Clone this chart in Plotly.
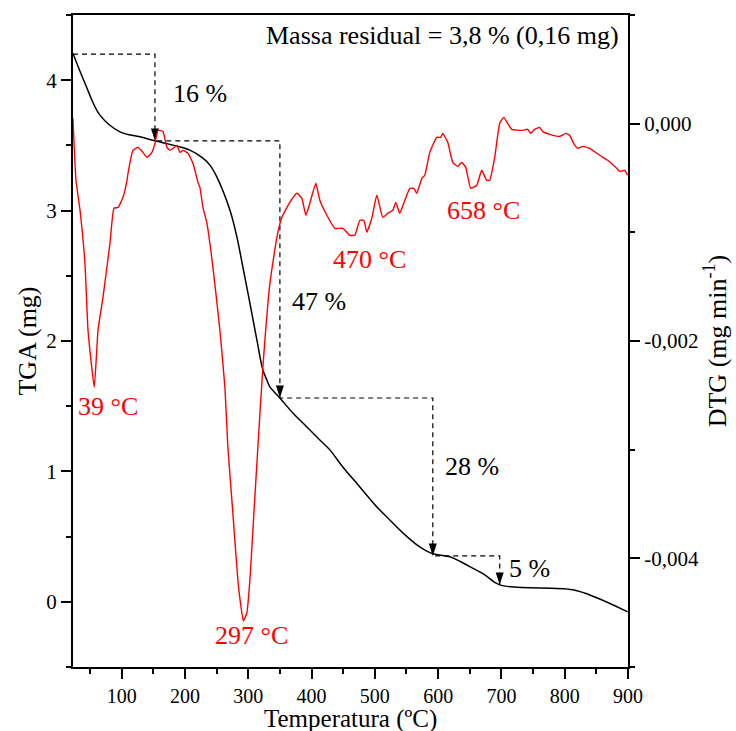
import plotly.graph_objects as go

# ---------------- data ----------------
tga_temperature = [23.1, 42.0, 65.7, 97.3, 128.9, 152.6, 181.0, 207.8, 228.4, 239.4, 250.5, 271.0,
                   282.1, 291.5, 302.6, 313.6, 323.1, 329.4, 334.2, 349.9, 370.5, 392.6, 413.1,
                   428.9, 449.4, 476.3, 503.1, 518.9, 544.2, 571.0, 591.6, 618.4, 650.0, 673.7,
                   697.3, 812.6, 850.5, 899.4]
tga_mass = [4.205, 3.977, 3.732, 3.604, 3.566, 3.535, 3.502, 3.464, 3.402, 3.349, 3.257, 3.004,
            2.797, 2.567, 2.291, 2.008, 1.778, 1.701, 1.648, 1.563, 1.448, 1.341, 1.241,
            1.165, 1.034, 0.881, 0.728, 0.651, 0.529, 0.421, 0.368, 0.345, 0.270, 0.207,
            0.130, 0.092, 0.031, -0.077]

dtg_temperature = [23.0, 27.8, 34.2, 42.0, 46.8, 56.7, 62.6, 70.5, 81.5, 87.8, 94.2, 102.1, 108.4,
                   110.0, 117.8, 125.7, 133.6, 139.9, 147.8, 152.6, 157.3, 165.2, 171.5, 176.3,
                   181.0, 187.3, 192.1, 196.8, 204.7, 212.6, 220.5, 223.6, 228.4, 234.7, 244.2,
                   255.2, 263.1, 267.8, 275.7, 283.6, 289.9, 292.3, 294.7, 297.8, 302.6, 308.9,
                   315.2, 323.1, 334.2, 345.2, 353.1, 365.7, 376.8, 384.7, 391.0, 397.3, 406.8,
                   413.1, 424.2, 436.8, 449.4, 460.5, 468.4, 476.3, 482.6, 487.3, 495.2, 503.1,
                   512.6, 520.5, 528.4, 533.1, 539.4, 545.7, 555.2, 561.5, 566.3, 574.2, 578.9,
                   586.8, 597.9, 604.2, 607.3, 615.2, 623.1, 631.0, 637.3, 643.6, 651.5, 661.0,
                   668.9, 676.7, 681.5, 689.4, 697.3, 703.6, 709.9, 716.2, 733.6, 741.5, 746.3,
                   752.6, 760.5, 765.2, 776.3, 792.1, 801.6, 807.9, 814.2, 820.5, 828.4, 839.5,
                   855.3, 867.9, 882.1, 886.8, 894.7, 899.4]
# DTG in units of 10^-3 mg/min
dtg_milli = [0.049, -0.521, -0.797, -1.285, -1.901, -2.425, -1.901, -1.597, -1.101, -0.779, -0.770,
             -0.678, -0.521, -0.457, -0.246, -0.218, -0.264, -0.310, -0.264, -0.181, -0.062, -0.071,
             -0.218, -0.246, -0.227, -0.200, -0.264, -0.246, -0.273, -0.365, -0.540, -0.586, -0.770,
             -0.917, -1.322, -1.901, -2.425, -2.977, -3.584, -4.200, -4.503, -4.577, -4.549, -4.503,
             -4.200, -3.584, -2.977, -2.242, -1.469, -1.046, -0.862, -0.724, -0.641, -0.687, -0.843,
             -0.733, -0.549, -0.705, -0.843, -0.963, -0.963, -1.027, -1.027, -0.889, -0.889, -0.999,
             -0.871, -0.659, -0.862, -0.825, -0.797, -0.724, -0.825, -0.733, -0.595, -0.595, -0.641,
             -0.503, -0.475, -0.264, -0.126, -0.126, -0.089, -0.172, -0.356, -0.393, -0.356, -0.402,
             -0.595, -0.567, -0.429, -0.521, -0.521, -0.310, 0.003, 0.058, 0.003, -0.052, -0.062,
             -0.052, -0.089, -0.052, -0.034, -0.071, -0.098, -0.117, -0.089, -0.108, -0.181, -0.227,
             -0.209, -0.227, -0.291, -0.337, -0.411, -0.439, -0.429, -0.475]
dtg_values = [v / 1000.0 for v in dtg_milli]

# dashed mass-loss steps
step_temperature = [23.1, 152.6, 152.6, 350.0, 350.0, 591.6, 591.6, 697.3, 697.3]
step_mass = [4.2, 4.2, 3.535, 3.535, 1.563, 1.563, 0.352, 0.352, 0.13]
step_labels = ["16 %", "47 %", "28 %", "5 %"]
step_label_x = [177.8, 365.8, 607.0, 708.4]
step_label_y = [3.90, 2.30, 1.04, 0.253]

peak_labels = ["39 °C", "297 °C", "470 °C", "658 °C"]
peak_label_x = [27.8, 305.7, 492.0, 672.0]
peak_label_y = [1.497, -0.26, 2.628, 3.004]
peak_label_anchor = ["left", "center", "center", "center"]

x_ticks = [100, 200, 300, 400, 500, 600, 700, 800, 900]
y_ticks = [0, 1, 2, 3, 4]
y2_ticks = [-0.004, -0.002, 0.0]
y2_ticktext = ["-0,004", "-0,002", "0,000"]

FONT = "Liberation Serif"

fig = go.Figure()
fig.add_trace(go.Scatter(x=dtg_temperature, y=dtg_values, yaxis="y2", mode="lines",
                         line=dict(color="#FF0000", width=1.4, shape="spline", smoothing=0.4),
                         showlegend=False))
fig.add_trace(go.Scatter(x=tga_temperature, y=tga_mass, mode="lines",
                         line=dict(color="black", width=1.5, shape="spline", smoothing=1.0),
                         showlegend=False))
fig.add_trace(go.Scatter(x=step_temperature, y=step_mass, mode="lines",
                         line=dict(color="black", width=1.2, dash="5px,4px"), showlegend=False))
# arrow heads at the end of each vertical dashed segment
arrow_x = [step_temperature[i] for i in (2, 4, 6, 8)]
arrow_y = [step_mass[i] for i in (2, 4, 6, 8)]
fig.add_trace(go.Scatter(x=arrow_x, y=arrow_y, mode="markers",
                         marker=dict(symbol="arrow", angle=180, size=13, color="black",
                                     line=dict(width=0)),
                         showlegend=False))

annotations = []
for t, x, y in zip(step_labels, step_label_x, step_label_y):
    annotations.append(dict(x=x, y=y, xref="x", yref="y", text=t, showarrow=False,
                            xanchor="left", yanchor="middle",
                            font=dict(family=FONT, size=26, color="black")))
for t, x, y, a in zip(peak_labels, peak_label_x, peak_label_y, peak_label_anchor):
    annotations.append(dict(x=x, y=y, xref="x", yref="y", text=t, showarrow=False,
                            xanchor=a, yanchor="middle",
                            font=dict(family=FONT, size=26, color="#FF0000")))
annotations.append(dict(x=0.987, y=0.969, xref="paper", yref="paper",
                        text="Massa residual = 3,8 % (0,16 mg)", showarrow=False,
                        xanchor="right", yanchor="middle",
                        font=dict(family=FONT, size=26, color="black")))
# x-axis title placed explicitly just below the tick labels
annotations.append(dict(x=0.5, y=-0.08, xref="paper", yref="paper",
                        text="Temperatura (ºC)", showarrow=False,
                        xanchor="center", yanchor="middle",
                        font=dict(family=FONT, size=25, color="black")))

axis_common = dict(showgrid=False, zeroline=False, showline=True, linewidth=2, linecolor="black",
                   ticks="outside", ticklen=10, tickwidth=2, tickcolor="black", automargin=False,
                   tickfont=dict(family=FONT, size=21, color="black"))

fig.update_layout(
    width=736, height=731,
    margin=dict(l=73, r=108, t=15, b=64),
    paper_bgcolor="white", plot_bgcolor="white",
    font=dict(family=FONT, color="black"),
    showlegend=False,
    annotations=annotations,
    xaxis=dict(range=[23.1, 900], tickmode="array", tickvals=x_ticks, mirror=True,
               minor=dict(dtick=50, tick0=0, ticks="outside", ticklen=5, tickwidth=2, tickcolor="black"),
               **{**axis_common, "tickfont": dict(family=FONT, size=20, color="black")}),
    yaxis=dict(range=[-0.5, 4.5], tickmode="array", tickvals=y_ticks,
               minor=dict(dtick=0.5, tick0=0, ticks="outside", ticklen=5, tickwidth=2, tickcolor="black"),
               title=dict(text="TGA (mg)", font=dict(family=FONT, size=26), standoff=2),
               **axis_common),
    yaxis2=dict(range=[-0.005, 0.001], overlaying="y", side="right", anchor="x",
                tickmode="array", tickvals=y2_ticks, ticktext=y2_ticktext,
                minor=dict(dtick=0.001, tick0=0, ticks="outside", ticklen=5, tickwidth=2, tickcolor="black"),
                title=dict(text="DTG (mg min<sup>-1</sup>)", font=dict(family=FONT, size=26), standoff=10),
                **axis_common),
)

fig.write_html("out.html")
